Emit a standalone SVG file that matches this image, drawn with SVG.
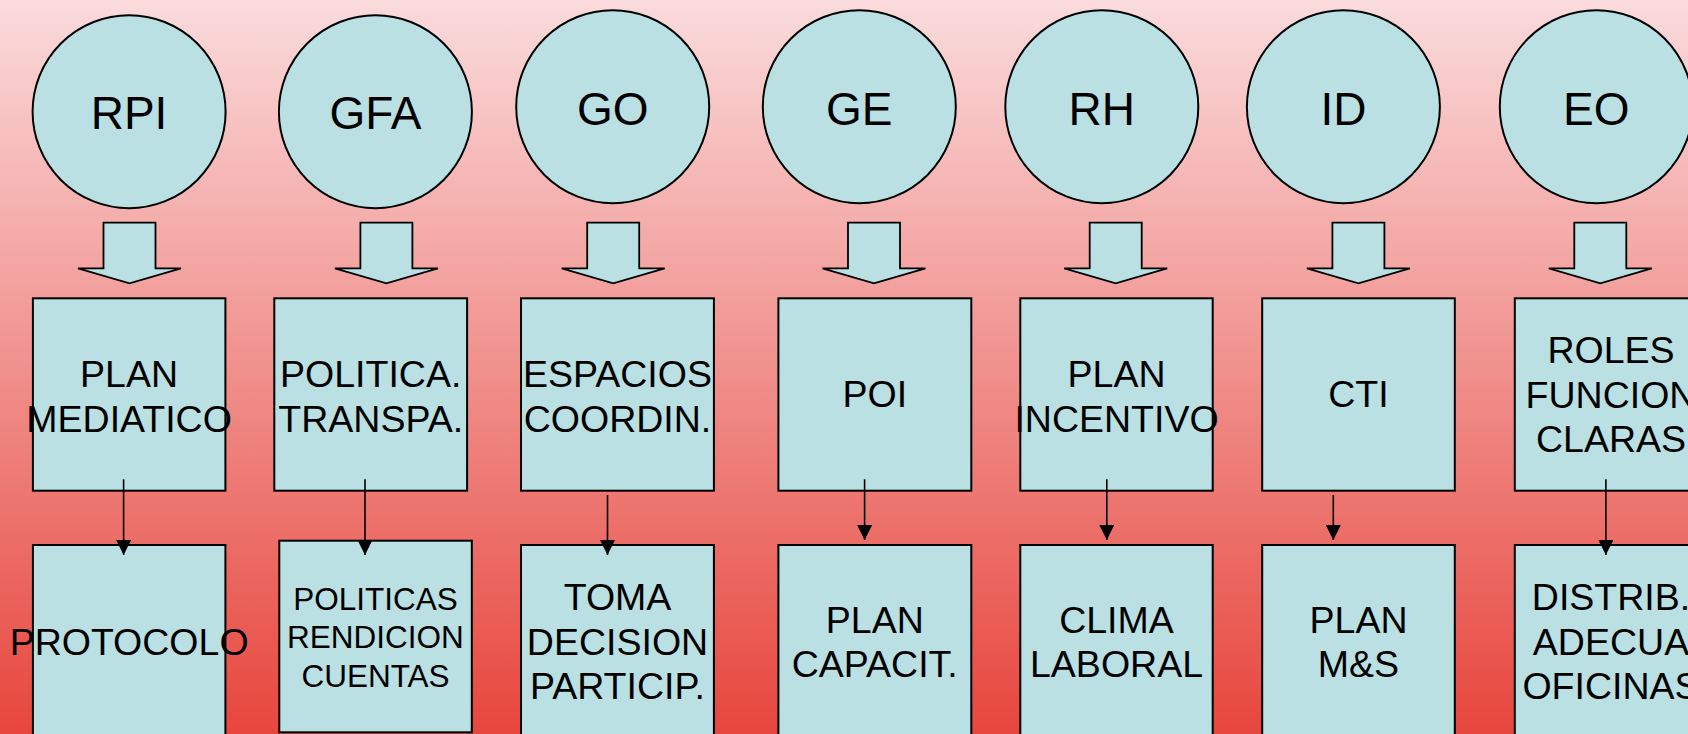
<svg xmlns="http://www.w3.org/2000/svg" width="1688" height="734" viewBox="0 0 1688 734">
<defs>
<linearGradient id="bg" x1="0" y1="0" x2="0" y2="1">
<stop offset="0" stop-color="#fadbdc"/>
<stop offset="1" stop-color="#e7463d"/>
</linearGradient>
<marker id="ah" markerUnits="userSpaceOnUse" markerWidth="15" markerHeight="15" refX="15" refY="7.5" orient="auto">
<path d="M0,0 L15,7.5 L0,15 Z" fill="#000"/>
</marker>
<path id="barrow" d="M-26,0 H26 V45.6 H51.5 L0,60.6 L-51.5,45.6 H-26 Z"/>
</defs>
<style>
.shape{fill:#bae0e3;stroke:#000;stroke-width:2}
.blk{fill:#bae0e3;stroke:#000;stroke-width:1.8}
.t{font-family:"Liberation Sans",Arial,sans-serif;fill:#000;text-anchor:middle}
.c{font-size:46px}
.b{font-size:37.5px}
.s{font-size:31.5px}
.ln{stroke:#000;stroke-width:1.6;fill:none;marker-end:url(#ah)}
</style>
<rect x="0" y="0" width="1688" height="734" fill="url(#bg)"/>

<g id="n-rpi"><circle class="shape" cx="129.1" cy="111.7" r="96.5"/><text class="t c" x="129" y="129.3">RPI</text></g>
<g id="n-gfa"><circle class="shape" cx="375.4" cy="111.7" r="96.5"/><text class="t c" x="375.5" y="129.3">GFA</text></g>
<g id="n-go"><circle class="shape" cx="612.7" cy="106.7" r="96.5"/><text class="t c" x="612.7" y="125">GO</text></g>
<g id="n-ge"><circle class="shape" cx="859.3" cy="106.7" r="96.5"/><text class="t c" x="859.3" y="125">GE</text></g>
<g id="n-rh"><circle class="shape" cx="1101.8" cy="106.7" r="96.5"/><text class="t c" x="1101.8" y="125">RH</text></g>
<g id="n-id"><circle class="shape" cx="1343.4" cy="106.7" r="96.5"/><text class="t c" x="1343.4" y="125">ID</text></g>
<g id="n-eo"><circle class="shape" cx="1596.3" cy="106.7" r="96.5"/><text class="t c" x="1596.3" y="125">EO</text></g>

<g id="n-plan-mediatico"><rect class="shape" x="32.9" y="298.3" width="192.5" height="192.4"/><text class="t b" x="129.1" y="386.7">PLAN</text><text class="t b" x="129.1" y="431.7">MEDIATICO</text></g>
<g id="n-politica-transpa"><rect class="shape" x="274.3" y="298.3" width="192.8" height="192.4"/><text class="t b" x="370.7" y="386.7">POLITICA.</text><text class="t b" x="370.7" y="431.7">TRANSPA.</text></g>
<g id="n-espacios"><rect class="shape" x="521" y="298.3" width="192.9" height="192.4"/><text class="t b" x="617.5" y="386.7">ESPACIOS</text><text class="t b" x="617.5" y="431.7">COORDIN.</text></g>
<g id="n-poi"><rect class="shape" x="778.4" y="298.3" width="192.9" height="192.4"/><text class="t b" x="874.8" y="407.3">POI</text></g>
<g id="n-plan-incentivo"><rect class="shape" x="1020.3" y="298.3" width="192.4" height="192.4"/><text class="t b" x="1116.5" y="386.7">PLAN</text><text class="t b" x="1116.5" y="431.7">INCENTIVO</text></g>
<g id="n-cti"><rect class="shape" x="1262.2" y="298.3" width="192.6" height="192.4"/><text class="t b" x="1358.5" y="407.3">CTI</text></g>
<g id="n-roles"><rect class="shape" x="1514.8" y="298.3" width="192.6" height="192.4"/><text class="t b" x="1611" y="363.3">ROLES</text><text class="t b" x="1611" y="407.7">FUNCION</text><text class="t b" x="1611" y="452.3">CLARAS</text></g>

<g id="n-protocolo"><rect class="shape" x="32.9" y="545" width="192.5" height="194"/><text class="t b" x="129.1" y="655">PROTOCOLO</text></g>
<g id="n-politicas-rendicion"><rect class="shape" x="279.3" y="540.7" width="192.5" height="191.6"/><text class="t s" x="375.5" y="610">POLITICAS</text><text class="t s" x="375.5" y="648.3">RENDICION</text><text class="t s" x="375.5" y="686.7">CUENTAS</text></g>
<g id="n-toma-decision"><rect class="shape" x="521" y="545" width="192.9" height="194"/><text class="t b" x="617.5" y="610">TOMA</text><text class="t b" x="617.5" y="655">DECISION</text><text class="t b" x="617.5" y="699">PARTICIP.</text></g>
<g id="n-plan-capacit"><rect class="shape" x="778.4" y="545" width="192.9" height="194"/><text class="t b" x="874.8" y="632.7">PLAN</text><text class="t b" x="874.8" y="676.7">CAPACIT.</text></g>
<g id="n-clima-laboral"><rect class="shape" x="1020.3" y="545" width="192.4" height="194"/><text class="t b" x="1116.5" y="632.7">CLIMA</text><text class="t b" x="1116.5" y="676.7">LABORAL</text></g>
<g id="n-plan-ms"><rect class="shape" x="1262.2" y="545" width="192.6" height="194"/><text class="t b" x="1358.5" y="632.7">PLAN</text><text class="t b" x="1358.5" y="676.7">M&amp;S</text></g>
<g id="n-distrib"><rect class="shape" x="1514.8" y="545" width="192.6" height="194"/><text class="t b" x="1611" y="610">DISTRIB.</text><text class="t b" x="1611" y="655">ADECUA</text><text class="t b" x="1611" y="699">OFICINAS</text></g>

<g id="connectors">
<use href="#barrow" class="blk" transform="translate(129.5,222.7)"/>
<use href="#barrow" class="blk" transform="translate(386.4,222.7)"/>
<use href="#barrow" class="blk" transform="translate(613.2,222.7)"/>
<use href="#barrow" class="blk" transform="translate(874,222.7)"/>
<use href="#barrow" class="blk" transform="translate(1115.7,222.7)"/>
<use href="#barrow" class="blk" transform="translate(1358.4,222.7)"/>
<use href="#barrow" class="blk" transform="translate(1600.3,222.7)"/>
<line class="ln" x1="123.6" y1="479.3" x2="123.6" y2="555"/>
<line class="ln" x1="365" y1="479.3" x2="365" y2="555"/>
<line class="ln" x1="607.5" y1="495" x2="607.5" y2="555"/>
<line class="ln" x1="864.6" y1="479.3" x2="864.6" y2="540"/>
<line class="ln" x1="1106.8" y1="479.3" x2="1106.8" y2="540"/>
<line class="ln" x1="1333.3" y1="495" x2="1333.3" y2="540"/>
<line class="ln" x1="1605.9" y1="479.3" x2="1605.9" y2="555"/>
</g>
</svg>
